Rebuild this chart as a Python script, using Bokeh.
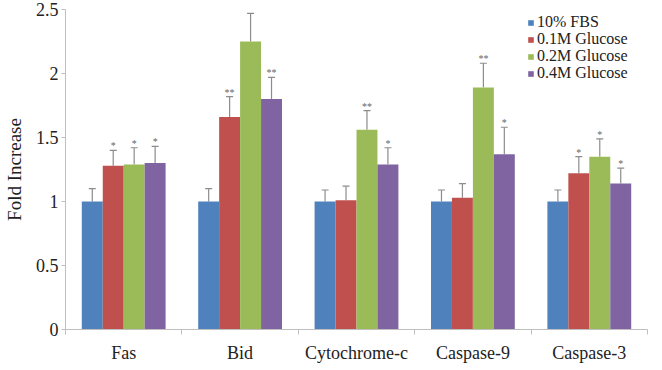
from bokeh.plotting import figure
from bokeh.models import (ColumnDataSource, Range1d, FixedTicker, Legend, LegendItem,
                          Whisker, TeeHead, NumeralTickFormatter)
from bokeh.transform import dodge
from bokeh.embed import file_html
from bokeh.resources import INLINE

categories = ["Fas", "Bid", "Cytochrome-c", "Caspase-9", "Caspase-3"]
series_names = ["10% FBS", "0.1M Glucose", "0.2M Glucose", "0.4M Glucose"]
fbs = [1.0, 1.0, 1.0, 1.0, 1.0]
fbs_err = [0.10, 0.10, 0.09, 0.09, 0.09]
g01 = [1.28, 1.66, 1.01, 1.03, 1.22]
g01_err = [0.12, 0.16, 0.11, 0.11, 0.13]
g02 = [1.29, 2.25, 1.56, 1.89, 1.35]
g02_err = [0.13, 0.22, 0.15, 0.19, 0.14]
g04 = [1.30, 1.80, 1.29, 1.37, 1.14]
g04_err = [0.13, 0.17, 0.13, 0.21, 0.12]
fbs_sig = ["", "", "", "", ""]
g01_sig = ["*", "**", "", "", "*"]
g02_sig = ["*", "**", "**", "**", "*"]
g04_sig = ["*", "**", "*", "*", "*"]
y_ticks = [0, 0.5, 1, 1.5, 2, 2.5]

colors = ["#4F81BD", "#C0504D", "#9BBB59", "#8064A2"]
FONT = "'Liberation Serif', 'Times New Roman', serif"

p = figure(width=646, height=354, output_backend="svg", toolbar_location=None,
           x_range=Range1d(0, len(categories)), y_range=Range1d(0, 2.5),
           min_border_left=62, min_border_top=9, min_border_right=2, min_border_bottom=25)
p.frame_width = 582
p.frame_height = 320
p.outline_line_color = None
p.grid.visible = False
p.background_fill_color = "white"

centers = [i + 0.5 for i in range(len(categories))]
bar_w = 0.18
offsets = [-0.27, -0.09, 0.09, 0.27]
all_vals = [fbs, g01, g02, g04]
all_errs = [fbs_err, g01_err, g02_err, g04_err]
all_sigs = [fbs_sig, g01_sig, g02_sig, g04_sig]
# one single-entry legend per series, stacked with the reference's tight row spacing
legend_y = [298, 281, 264, 247]

for name, vals, errs, sigs, col, off, ly in zip(series_names, all_vals, all_errs, all_sigs,
                                               colors, offsets, legend_y):
    src = ColumnDataSource(dict(x=centers, top=vals,
                                upper=[v + e for v, e in zip(vals, errs)], sig=sigs))
    r = p.vbar(x=dodge("x", off, range=p.x_range), top="top", width=bar_w, source=src,
               fill_color=col, line_color=None)
    w = Whisker(base=dodge("x", off, range=p.x_range), lower="top", upper="upper", source=src,
                line_color="#8c8c8c", line_width=1.2,
                lower_head=None, upper_head=TeeHead(size=7, line_color="#8c8c8c", line_width=1.2))
    p.add_layout(w)
    p.text(x=dodge("x", off, range=p.x_range), y="upper", text="sig", source=src,
           text_align="center", text_baseline="bottom", y_offset=1,
           text_font_size="10px", text_color="#666666", text_font=FONT)
    lg = Legend(items=[LegendItem(label=name, renderers=[r])], location=(462, ly),
                glyph_width=7, glyph_height=7,
                label_text_font=FONT, label_text_font_size="16px", label_text_color="#222222",
                label_height=15, label_standoff=3, spacing=0, padding=0, margin=0,
                background_fill_alpha=0, border_line_color=None)
    p.add_layout(lg)

# x axis: labels at category centers, ticks at boundaries (minor ticks)
xa = p.xaxis[0]
xa.ticker = FixedTicker(ticks=centers, minor_ticks=list(range(len(categories) + 1)))
xa.major_label_overrides = {c: cat for c, cat in zip(centers, categories)}
xa.major_tick_line_color = None
xa.minor_tick_in = 0
xa.minor_tick_out = 5
xa.minor_tick_line_color = "#bfbfbf"
xa.axis_line_color = "#bfbfbf"
xa.major_label_text_font = FONT
xa.major_label_text_font_size = "18px"
xa.major_label_text_color = "#222222"
xa.major_label_standoff = 7

ya = p.yaxis[0]
ya.ticker = FixedTicker(ticks=y_ticks)
ya.formatter = NumeralTickFormatter(format="0.[0]")
ya.axis_line_color = "#bfbfbf"
ya.major_tick_line_color = "#bfbfbf"
ya.major_tick_in = 0
ya.major_tick_out = 4
ya.minor_tick_line_color = None
ya.major_label_text_font = FONT
ya.major_label_text_font_size = "18px"
ya.major_label_text_color = "#222222"
ya.major_label_standoff = 3
ya.axis_label = "Fold Increase"
ya.axis_label_text_font = FONT
ya.axis_label_text_font_size = "19px"
ya.axis_label_text_font_style = "normal"
ya.axis_label_text_color = "#222222"
ya.axis_label_standoff = 8

open("out.html", "w").write(file_html(p, INLINE))
